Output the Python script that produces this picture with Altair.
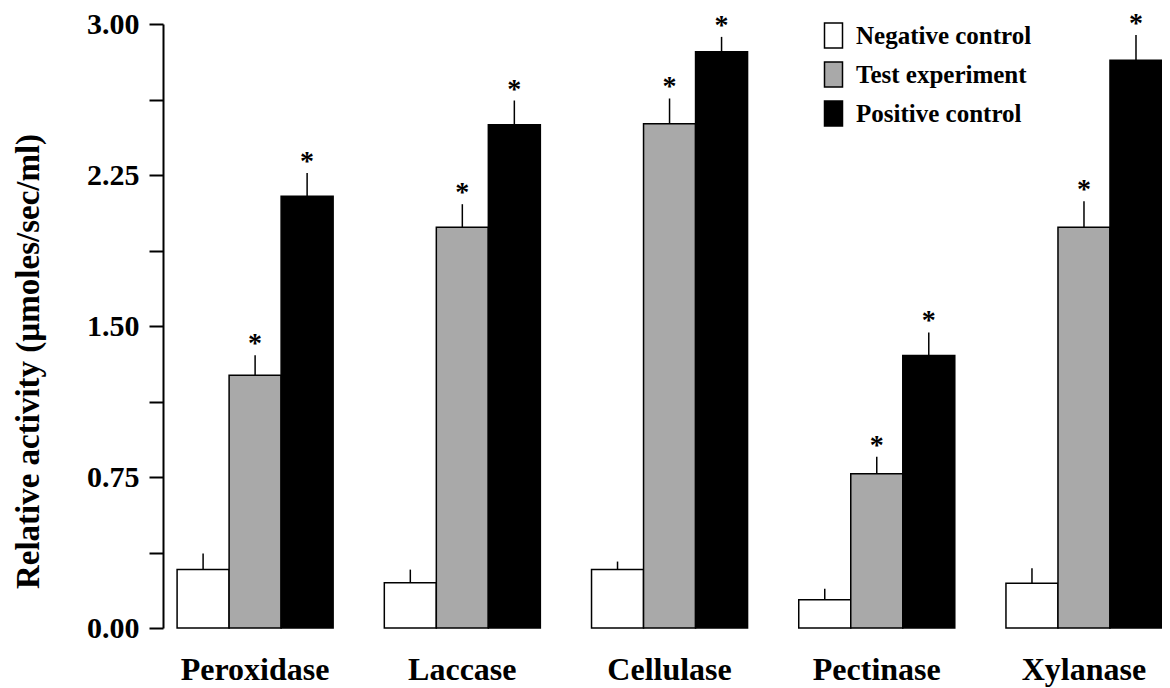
import altair as alt
import pandas as pd

enzymes = ["Peroxidase", "Laccase", "Cellulase", "Pectinase", "Xylanase"]
groups = ["Negative control", "Test experiment", "Positive control"]

neg_vals = [0.29, 0.225, 0.29, 0.14, 0.222]
neg_err = [0.08, 0.065, 0.04, 0.055, 0.075]
test_vals = [1.255, 1.99, 2.505, 0.766, 1.99]
test_err = [0.10, 0.115, 0.125, 0.085, 0.13]
pos_vals = [2.145, 2.50, 2.862, 1.354, 2.82]
pos_err = [0.115, 0.12, 0.074, 0.114, 0.125]
star_marks = ["", "*", "*"]

fill_colors = ["#ffffff", "#a9a9a9", "#000000"]
y_tick_values = [0.0, 0.375, 0.75, 1.125, 1.5, 1.875, 2.25, 2.625, 3.0]

rows = []
for gi, (g, vals, errs) in enumerate(zip(groups, [neg_vals, test_vals, pos_vals], [neg_err, test_err, pos_err])):
    for e, v, er in zip(enzymes, vals, errs):
        rows.append({"enzyme": e, "group": g, "value": v, "top": v + er, "star": star_marks[gi]})
df = pd.DataFrame(rows)

FONT = "Liberation Serif"

x_enc = alt.X("enzyme:N", sort=enzymes,
              scale=alt.Scale(paddingInner=0.247, paddingOuter=0.034, align=1),
              axis=alt.Axis(title=None, labelAngle=0, domain=False, ticks=False, grid=False,
                            labelPadding=26, labelFont=FONT, labelFontWeight="bold",
                            labelFontSize=32, labelColor="black"))
xoff = alt.XOffset("group:N", sort=groups, scale=alt.Scale(paddingInner=0, paddingOuter=0))
y_scale = alt.Scale(domain=[0, 3], nice=False)

bars = alt.Chart(df).mark_bar(stroke="black", strokeWidth=1.5).encode(
    x=x_enc,
    xOffset=xoff,
    y=alt.Y("value:Q", scale=y_scale,
            axis=alt.Axis(title="Relative activity (µmoles/sec/ml)", values=y_tick_values,
                          labelExpr="datum.value % 0.75 == 0 ? format(datum.value, '.2f') : ''",
                          grid=False, domainColor="black", domainWidth=2, tickColor="black",
                          tickWidth=2, tickSize=14, labelPadding=10, labelFont=FONT,
                          labelFontWeight="bold", labelFontSize=30, labelColor="black",
                          titleFont=FONT, titleFontWeight="bold", titleFontSize=33,
                          titleColor="black", titleY=337, titleX=-125, titleAngle=-90,
                          titleBaseline="alphabetic")),
    fill=alt.Fill("group:N", sort=groups,
                  scale=alt.Scale(domain=groups, range=fill_colors),
                  legend=alt.Legend(title=None, orient="none", legendX=657, legendY=-2,
                                    symbolType="M-0.72,-1L0.72,-1L0.72,1L-0.72,1Z",
                                    symbolSize=625, symbolStrokeColor="black",
                                    symbolStrokeWidth=1.5, symbolOpacity=1,
                                    labelFont=FONT, labelFontWeight="bold",
                                    labelFontSize=25, labelColor="black",
                                    labelOffset=9, rowPadding=8, labelLimit=400)),
)

errs = alt.Chart(df).mark_rule(color="black", strokeWidth=1.5).encode(
    x=alt.X("enzyme:N", sort=enzymes),
    xOffset=xoff,
    y=alt.Y("value:Q", scale=y_scale),
    y2="top:Q",
)

stars = alt.Chart(df).mark_text(font=FONT, fontSize=28, fontWeight="bold", color="black",
                                baseline="alphabetic", dy=-3).encode(
    x=alt.X("enzyme:N", sort=enzymes),
    xOffset=xoff,
    y=alt.Y("top:Q", scale=y_scale),
    text="star:N",
)

chart = alt.layer(bars, errs, stars).properties(
    width=999, height=604,
    background="white",
    autosize=alt.AutoSizeParams(type="none"),
    padding={"left": 155, "top": 16, "right": 0, "bottom": 60},
).configure_view(stroke=None).configure_axis(grid=False)

chart.save("out.html", embed_options={"renderer": "svg", "actions": False})
